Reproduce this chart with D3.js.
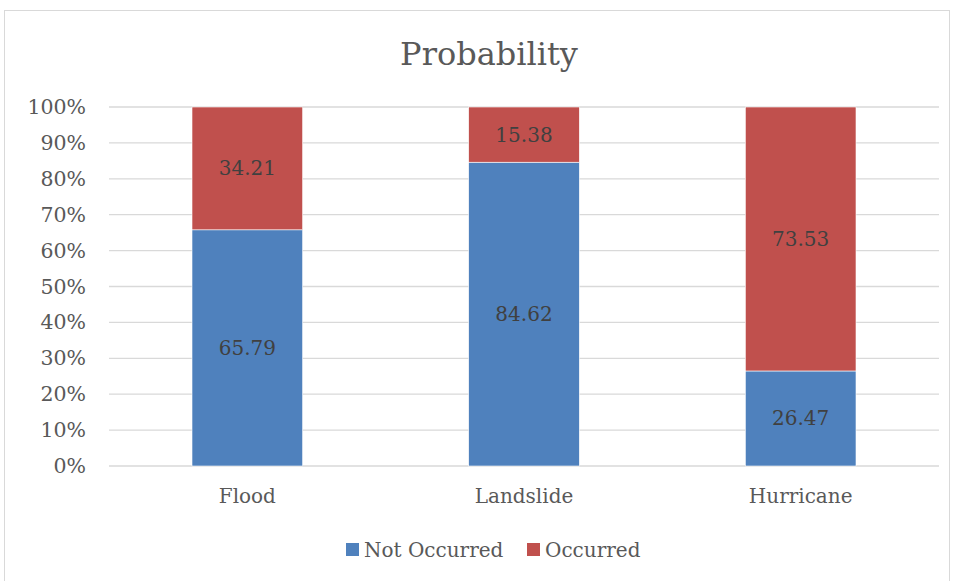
<!DOCTYPE html>
<html><head><meta charset="utf-8">
<script src="https://cdn.jsdelivr.net/npm/d3@7"></script>
<style>
html,body{margin:0;padding:0;background:#fff;}
svg text{font-family:"DejaVu Serif","Liberation Serif",serif;}
</style></head>
<body><svg id="c" width="955" height="581"></svg>
<script>
const categories = ["Flood", "Landslide", "Hurricane"];
const notOccurred = [65.79, 84.62, 26.47];
const occurred = [34.21, 15.38, 73.53];
const seriesNames = ["Not Occurred", "Occurred"];
const seriesColors = ["#4F81BD", "#C0504D"];
const yTicks = [0, 0.1, 0.2, 0.3, 0.4, 0.5, 0.6, 0.7, 0.8, 0.9, 1.0];
const title = "Probability";

const svg = d3.select("#c");
svg.append("rect").attr("x", 4.5).attr("y", 10.5).attr("width", 945).attr("height", 575)
  .attr("fill", "#fff").attr("stroke", "#D9D9D9").attr("stroke-width", 1);

const m = {left: 109, right: 939, top: 107, bottom: 466};
const x = d3.scaleBand().domain(categories).range([m.left, m.right]).paddingInner(0.6).paddingOuter(0.3);
const y = d3.scaleLinear().domain([0, 1]).range([m.bottom, m.top]);

// gridlines
svg.append("g").selectAll("line").data(yTicks).join("line")
  .attr("x1", m.left).attr("x2", m.right)
  .attr("y1", d => y(d)).attr("y2", d => y(d))
  .attr("stroke", "#D9D9D9").attr("stroke-width", 1.3);

// y axis labels
const yAxis = d3.axisLeft(y).tickValues(yTicks).tickFormat(d3.format(".0%")).tickSize(0).tickPadding(0);
const gy = svg.append("g").attr("transform", `translate(86,0)`).call(yAxis);
gy.select(".domain").remove();
gy.selectAll("text").attr("font-size", 20.5).attr("fill", "#595959").attr("font-family", "DejaVu Serif");

// stacked data
const rows = categories.map((c, i) => ({cat: c, "Not Occurred": notOccurred[i] / 100, "Occurred": occurred[i] / 100}));
const stack = d3.stack().keys(seriesNames)(rows);
const raw = [notOccurred, occurred];

stack.forEach((s, si) => {
  const g = svg.append("g");
  g.selectAll("rect").data(s).join("rect")
    .attr("x", d => x(d.data.cat)).attr("width", x.bandwidth())
    .attr("y", d => y(d[1])).attr("height", d => y(d[0]) - y(d[1]))
    .attr("fill", seriesColors[si]).attr("stroke", "#fff").attr("stroke-width", 0.6);
  g.selectAll("text").data(s).join("text")
    .attr("x", d => x(d.data.cat) + x.bandwidth() / 2)
    .attr("y", d => (y(d[0]) + y(d[1])) / 2)
    .attr("dy", "0.35em").attr("text-anchor", "middle")
    .attr("font-size", 20).attr("fill", "#404040")
    .text((d, i) => raw[si][i].toFixed(2));
});

// x axis labels
const xAxis = d3.axisBottom(x).tickSize(0).tickPadding(0);
const gx = svg.append("g").attr("transform", `translate(0,${m.bottom})`).call(xAxis);
gx.select(".domain").remove();
gx.selectAll("text").attr("y", 37).attr("dy", null).attr("font-size", 20).attr("fill", "#595959").attr("font-family", "DejaVu Serif");

// title
svg.append("text").attr("x", 489).attr("y", 65).attr("text-anchor", "middle")
  .attr("font-size", 32).attr("fill", "#595959").text(title);

// legend
const legX = [346, 527];
const lg = svg.append("g");
seriesNames.forEach((n, i) => {
  lg.append("rect").attr("x", legX[i]).attr("y", 543).attr("width", 13).attr("height", 13).attr("fill", seriesColors[i]);
  lg.append("text").attr("x", legX[i] + 18).attr("y", 557)
    .attr("font-size", 20).attr("fill", "#595959").text(n);
});
</script></body></html>
